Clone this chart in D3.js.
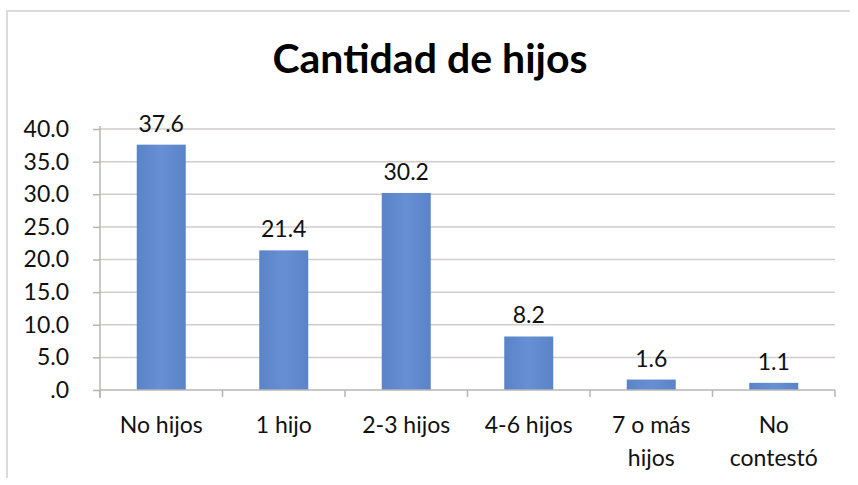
<!DOCTYPE html>
<html><head><meta charset="utf-8">
<script src="https://cdn.jsdelivr.net/npm/d3@7"></script>
<style>body{margin:0;background:#fff}svg{display:block}text{font-family:Lato,"Open Sans",sans-serif}</style>
</head><body>
<svg id="c" width="858" height="485"></svg>
<script>
const categories = ["No hijos","1 hijo","2-3 hijos","4-6 hijos","7 o más\nhijos","No\ncontestó"];
const values = [37.6, 21.4, 30.2, 8.2, 1.6, 1.1];
const yTicks = [0,5,10,15,20,25,30,35,40];
const title = "Cantidad de hijos";

const svg = d3.select("#c");
const m = {left:100, right:835, top:129, bottom:390};
// outer frame
svg.append("path").attr("d","M7,478V11H850").attr("fill","none").attr("stroke","#dedada").attr("stroke-width",2);

const x = d3.scaleBand().domain(categories).range([m.left,m.right]).paddingInner(0.6).paddingOuter(0.3);
const y = d3.scaleLinear().domain([0,40]).range([m.bottom,m.top]);

// gridlines
svg.append("g").selectAll("line").data(yTicks.filter(d=>d>0)).join("line")
  .attr("x1",m.left).attr("x2",m.right).attr("y1",d=>y(d)).attr("y2",d=>y(d))
  .attr("stroke","#d2cccc").attr("stroke-width",1.5);

// bars
const grad = svg.append("defs").append("linearGradient").attr("id","g");
grad.append("stop").attr("offset","0").attr("stop-color","#5a84c8");
grad.append("stop").attr("offset","0.5").attr("stop-color","#6690d2");
grad.append("stop").attr("offset","1").attr("stop-color","#5a84c8");
svg.append("g").selectAll("rect").data(values).join("rect")
  .attr("x",(d,i)=>x(categories[i])).attr("width",x.bandwidth())
  .attr("y",d=>y(d)).attr("height",d=>m.bottom-y(d)).attr("fill","url(#g)");

// y axis
const ya = svg.append("g").attr("transform",`translate(${m.left},0)`)
  .call(d3.axisLeft(y).tickValues(yTicks).tickSize(7).tickPadding(24)
    .tickFormat(d=>d===0?".0":d3.format(".1f")(d)));
ya.select(".domain").attr("stroke","#b8b4b4").attr("stroke-width",1.5).attr("d",`M0,${m.top-3}V${m.bottom+8}`);
ya.selectAll(".tick line").attr("stroke","#b8b4b4").attr("stroke-width",1.5);
ya.selectAll(".tick text").attr("font-size",23).attr("fill","#111").attr("font-family","Lato");

// x axis
const xa = svg.append("g").attr("transform",`translate(0,${m.bottom})`);
xa.append("line").attr("x1",m.left).attr("x2",m.right).attr("stroke","#b8b4b4").attr("stroke-width",1.5);
const bounds = categories.map(c=>x(c)-x.step()*x.paddingInner()/2).concat([m.right]);
xa.selectAll("line.t").data(bounds).join("line").attr("class","t")
  .attr("x1",d=>d).attr("x2",d=>d).attr("y1",0).attr("y2",7).attr("stroke","#b8b4b4").attr("stroke-width",1.5);
xa.selectAll("text").data(categories).join("text")
  .attr("x",d=>x(d)+x.bandwidth()/2).attr("text-anchor","middle")
  .attr("font-size",23).attr("fill","#111")
  .each(function(d){
    d.split("\n").forEach((s,k)=>d3.select(this).append("tspan").attr("x",x(d)+x.bandwidth()/2).attr("y",43+k*33).text(s));
  });

// data labels
svg.append("g").selectAll("text").data(values).join("text")
  .attr("x",(d,i)=>x(categories[i])+x.bandwidth()/2).attr("y",d=>y(d)-13)
  .attr("text-anchor","middle").attr("font-size",23).attr("fill","#111")
  .text(d=>d3.format(".1f")(d));

// title
svg.append("text").attr("x",430).attr("y",73).attr("text-anchor","middle")
  .attr("font-size",41).attr("font-weight","bold").attr("fill","#000").text(title);
</script>
</body></html>
